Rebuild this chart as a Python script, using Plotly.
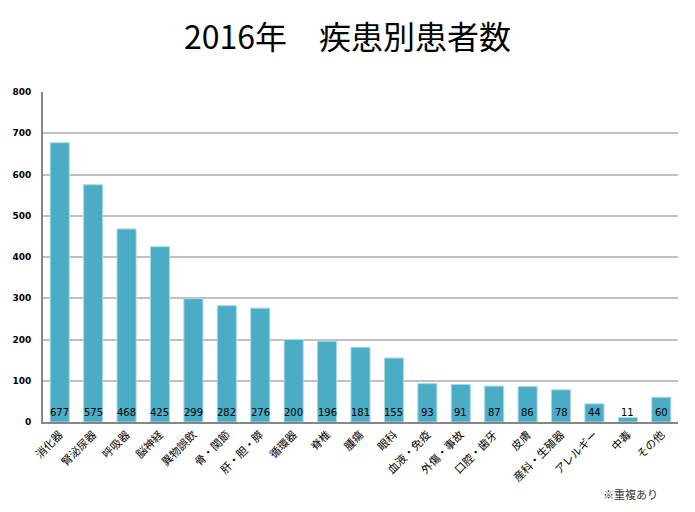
import plotly.graph_objects as go

categories = ["消化器", "腎泌尿器", "呼吸器", "脳神経", "異物誤飲", "骨・関節", "肝・胆・膵",
              "循環器", "脊椎", "腫瘍", "眼科", "血液・免疫", "外傷・事故", "口腔・歯牙",
              "皮膚", "産科・生殖器", "アレルギー", "中毒", "その他"]
values = [677, 575, 468, 425, 299, 282, 276, 200, 196, 181, 155, 93, 91, 87, 86, 78, 44, 11, 60]
y_ticks = [0, 100, 200, 300, 400, 500, 600, 700, 800]

FONT = "Noto Sans CJK JP"
NUMFONT = "Verdana, DejaVu Sans"

fig = go.Figure()
fig.add_trace(go.Bar(
    x=categories, y=values,
    marker=dict(color="#4BACC6", line=dict(color="#A9D8E5", width=1)),
    width=0.57,
    hoverinfo="x+y",
))
for c, v in zip(categories, values):
    fig.add_annotation(x=c, y=0, text=str(v), showarrow=False,
                       xanchor="center", yanchor="bottom", yshift=2,
                       font=dict(family=NUMFONT, size=10, color="#000000"))

fig.update_layout(
    width=695, height=512,
    margin=dict(l=36, r=17, t=92, b=90),
    paper_bgcolor="white", plot_bgcolor="white",
    showlegend=False,
    title=dict(text="2016年　疾患別患者数", x=0.5, xanchor="center", y=0.927, yanchor="middle",
               font=dict(family=FONT, size=32, color="#000000")),
    font=dict(family=FONT),
)
fig.update_yaxes(
    range=[0, 800], tickvals=y_ticks, ticktext=[str(t) for t in y_ticks],
    showgrid=True, gridcolor="#C0C0C0", gridwidth=1.5,
    showline=True, linecolor="#868686", linewidth=2,
    ticks="", ticklabelstandoff=8,
    tickfont=dict(family=NUMFONT, size=9, color="#000000", weight="bold"),
    zeroline=False,
)
fig.update_xaxes(
    showline=True, linecolor="#868686", linewidth=2,
    tickangle=-45, ticks="",
    tickfont=dict(family=FONT, size=11, color="#000000"),
    range=[-0.5, len(categories) - 0.5],
)
fig.add_annotation(text="※重複あり", xref="paper", yref="paper", x=0.972, y=-0.218,
                   xanchor="right", yanchor="middle", showarrow=False,
                   font=dict(family=FONT, size=11, color="#333333"))

fig.write_html("out.html")
